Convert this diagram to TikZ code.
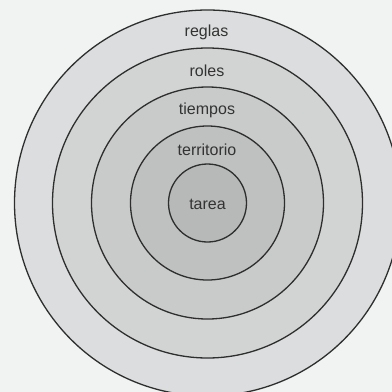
\documentclass[tikz,border=0pt]{standalone}
\usepackage{fontspec}
\setmainfont{Liberation Sans}
\definecolor{bgc}{HTML}{F1F2F2}
\definecolor{ringA}{HTML}{DCDDDE}
\definecolor{ringB}{HTML}{D2D3D3}
\definecolor{ringC}{HTML}{C9CACA}
\definecolor{ringD}{HTML}{BFC0C0}
\definecolor{ringE}{HTML}{B7B8B8}
\definecolor{linec}{HTML}{2E2E2E}
\definecolor{txtc}{HTML}{333333}
\begin{document}
\begin{tikzpicture}[x=1pt,y=-1pt,
  ring/.style={circle, draw=linec, line width=1.3pt, inner sep=0pt},
  lbl/.style={anchor=base, text=txtc, font=\fontsize{16}{18}\selectfont, inner sep=0pt}]
\fill[bgc] (0,0) rectangle (392,392);
\useasboundingbox (0,0) rectangle (392,392);
\coordinate (c) at (207.5,203);
\node[ring, fill=ringA, minimum size=386pt] (reglasC) at (c) {};
\node[ring, fill=ringB, minimum size=310pt] (rolesC) at (c) {};
\node[ring, fill=ringC, minimum size=232pt] (tiemposC) at (c) {};
\node[ring, fill=ringD, minimum size=154pt] (territorioC) at (c) {};
\node[ring, fill=ringE, minimum size=78pt] (tareaC) at (c) {};
\node[lbl] (reglas) at (206.5,36) {reglas};
\node[lbl] (roles) at (207,76) {roles};
\node[lbl] (tiempos) at (207,114) {tiempos};
\node[lbl] (territorio) at (207,155) {territorio};
\node[lbl] (tarea) at (207.5,209) {tarea};
\end{tikzpicture}
\end{document}
